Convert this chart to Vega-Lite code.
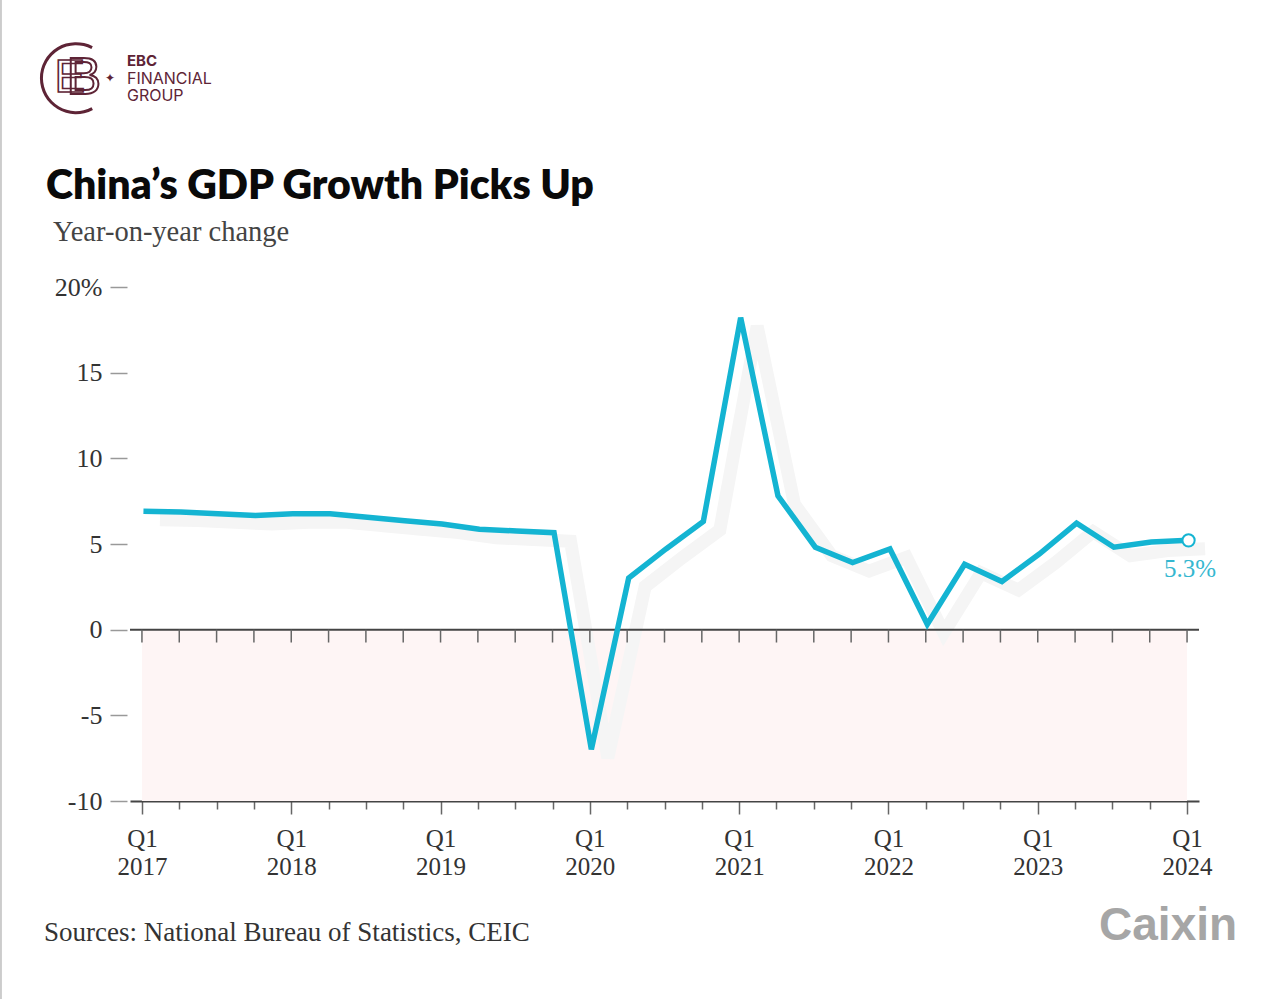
{"$schema":"https://vega.github.io/schema/vega-lite/v6.json","width":1069,"height":514,"padding":{"left":130,"top":287,"right":81,"bottom":198},"autosize":"none","background":"white","view":{"stroke":null},
"title":{"text":"China’s GDP Growth Picks Up","anchor":"start","frame":"group","dx":-84,"offset":-210,"font":"Lato","fontSize":41,"fontWeight":800,"color":"#0a0a0a"},
"data":{"values":[{"quarter":"2017 Q1","growth":7.0},{"quarter":"2017 Q2","growth":6.95},{"quarter":"2017 Q3","growth":6.85},{"quarter":"2017 Q4","growth":6.75},{"quarter":"2018 Q1","growth":6.85},{"quarter":"2018 Q2","growth":6.85},{"quarter":"2018 Q3","growth":6.65},{"quarter":"2018 Q4","growth":6.45},{"quarter":"2019 Q1","growth":6.25},{"quarter":"2019 Q2","growth":5.95},{"quarter":"2019 Q3","growth":5.85},{"quarter":"2019 Q4","growth":5.75},{"quarter":"2020 Q1","growth":-6.9},{"quarter":"2020 Q2","growth":3.1},{"quarter":"2020 Q3","growth":4.8},{"quarter":"2020 Q4","growth":6.4},{"quarter":"2021 Q1","growth":18.3},{"quarter":"2021 Q2","growth":7.9},{"quarter":"2021 Q3","growth":4.9},{"quarter":"2021 Q4","growth":4.0},{"quarter":"2022 Q1","growth":4.8},{"quarter":"2022 Q2","growth":0.4},{"quarter":"2022 Q3","growth":3.9},{"quarter":"2022 Q4","growth":2.9},{"quarter":"2023 Q1","growth":4.5},{"quarter":"2023 Q2","growth":6.3},{"quarter":"2023 Q3","growth":4.9},{"quarter":"2023 Q4","growth":5.2},{"quarter":"2024 Q1","growth":5.3}]},
"layer":[
{"mark":{"type":"line","stroke":"#14b4d2","strokeOpacity":0,"strokeWidth":1},"encoding":{
"x":{"field":"quarter","type":"ordinal","title":null,"scale":{"type":"point","padding":0.32,"domain":["2017 Q1","2017 Q2","2017 Q3","2017 Q4","2018 Q1","2018 Q2","2018 Q3","2018 Q4","2019 Q1","2019 Q2","2019 Q3","2019 Q4","2020 Q1","2020 Q2","2020 Q3","2020 Q4","2021 Q1","2021 Q2","2021 Q3","2021 Q4","2022 Q1","2022 Q2","2022 Q3","2022 Q4","2023 Q1","2023 Q2","2023 Q3","2023 Q4","2024 Q1"]},
"axis":{"orient":"bottom","domainColor":"#444444","domainWidth":2,"tickColor":"#666666","tickWidth":1.5,"tickSize":{"condition":{"test":"indexof(datum.value,'Q1')>=0","value":13},"value":8},"labelOverlap":false,"labelAngle":0,"labelPadding":12,"labelFont":"Liberation Serif","labelFontSize":25,"labelColor":"#333333","labelLineHeight":28,"labelBaseline":"top","labelExpr":"indexof(datum.value,'Q1')>=0 ? ['Q1', slice(datum.value,0,4)] : ''"}},
"y":{"field":"growth","type":"quantitative","title":null,"scale":{"domain":[-10,20],"nice":false,"zero":false},
"axis":{"values":[-10,-5,0,5,10,15,20],"grid":false,"domain":false,"offset":3,"tickSize":17,"tickColor":"#999999","tickWidth":1.5,"labelPadding":8,"labelFont":"Liberation Serif","labelFontSize":26,"labelColor":"#333333","labelExpr":"datum.value==20 ? '20%' : ''+datum.value"}}}},
{"data":{"values":[{"band":"negative"}]},"mark":{"type":"rect","color":"#fef5f5"},"encoding":{"x":{"datum":"2017 Q1","type":"ordinal","title":null},"x2":{"datum":"2024 Q1"},"y":{"datum":0,"type":"quantitative","title":null},"y2":{"datum":-10}}},
{"mark":{"type":"line","stroke":"#f5f5f5","strokeWidth":13,"xOffset":18,"yOffset":10,"clip":false},"encoding":{"x":{"field":"quarter","type":"ordinal","title":null},"y":{"field":"growth","type":"quantitative","title":null}}},
{"data":{"values":[{"rule":"zero"}]},"mark":{"type":"rule","color":"#444444","size":2},"encoding":{"y":{"datum":0,"type":"quantitative","title":null}}},
{"mark":{"type":"rule","color":"#666666","size":1.5},"encoding":{"x":{"field":"quarter","type":"ordinal","title":null},"y":{"datum":0,"type":"quantitative","title":null},"y2":{"datum":-0.75}}},
{"mark":{"type":"line","stroke":"#14b4d2","strokeWidth":5.5,"strokeJoin":"miter","xOffset":1.5,"yOffset":1.5,"clip":false},"encoding":{"x":{"field":"quarter","type":"ordinal","title":null},"y":{"field":"growth","type":"quantitative","title":null}}},
{"transform":[{"filter":"datum.quarter=='2024 Q1'"}],"mark":{"type":"point","filled":true,"fill":"white","stroke":"#14b4d2","strokeWidth":2,"size":150,"opacity":1,"xOffset":1.5,"yOffset":1.5},"encoding":{"x":{"field":"quarter","type":"ordinal","title":null},"y":{"field":"growth","type":"quantitative","title":null}}},
{"data":{"values":[{"quarter":"2024 Q1","growth":5.3,"label":"5.3%"}]},"mark":{"type":"text","color":"#35b7d0","font":"Liberation Serif","fontSize":25,"dy":30,"dx":3},"encoding":{"x":{"field":"quarter","type":"ordinal","title":null},"y":{"field":"growth","type":"quantitative","title":null},"text":{"field":"label"}}},
{"data":{"values":[{"label":"Year-on-year change"}]},"mark":{"type":"text","align":"left","dx":-89,"color":"#444444","font":"Liberation Serif","fontSize":28.5},"encoding":{"x":{"datum":"2017 Q1","type":"ordinal","title":null},"y":{"datum":23.2,"type":"quantitative","title":null},"text":{"field":"label"}}},
{"data":{"values":[{"label":"EBC"}]},"mark":{"type":"text","align":"left","dx":-15,"color":"#5e2436","font":"Inter","fontWeight":700,"fontSize":15},"encoding":{"x":{"datum":"2017 Q1","type":"ordinal","title":null},"y":{"datum":33.18,"type":"quantitative","title":null},"text":{"field":"label"}}},
{"data":{"values":[{"label":"FINANCIAL"}]},"mark":{"type":"text","align":"left","dx":-15,"color":"#5e2436","font":"Inter","fontSize":16},"encoding":{"x":{"datum":"2017 Q1","type":"ordinal","title":null},"y":{"datum":32.15,"type":"quantitative","title":null},"text":{"field":"label"}}},
{"data":{"values":[{"label":"GROUP"}]},"mark":{"type":"text","align":"left","dx":-15,"color":"#5e2436","font":"Inter","fontSize":16},"encoding":{"x":{"datum":"2017 Q1","type":"ordinal","title":null},"y":{"datum":31.12,"type":"quantitative","title":null},"text":{"field":"label"}}},
{"data":{"values":[{"label":"✦"}]},"mark":{"type":"text","dx":-32,"color":"#5e2436","font":"DejaVu Sans","fontSize":12},"encoding":{"x":{"datum":"2017 Q1","type":"ordinal","title":null},"y":{"datum":32.19,"type":"quantitative","title":null},"text":{"field":"label"}}},
{"data":{"values":[{"label":"E"}]},"mark":{"type":"text","dx":-72,"color":"#5e2436","fillOpacity":0,"stroke":"#5e2436","strokeWidth":1.6,"font":"Liberation Sans","fontSize":46},"encoding":{"x":{"datum":"2017 Q1","type":"ordinal","title":null},"y":{"datum":32.19,"type":"quantitative","title":null},"text":{"field":"label"}}},
{"data":{"values":[{"label":"B"}]},"mark":{"type":"text","dx":-58,"color":"#5e2436","fillOpacity":0,"stroke":"#5e2436","strokeWidth":2,"font":"Liberation Sans","fontSize":52},"encoding":{"x":{"datum":"2017 Q1","type":"ordinal","title":null},"y":{"datum":32.19,"type":"quantitative","title":null},"text":{"field":"label"}}},
{"data":{"values":[{"label":"ring"}]},"mark":{"type":"arc","color":"#5e2436","radius":36,"radius2":33,"theta":2.65,"theta2":6.77,"xOffset":-66,"clip":false},"encoding":{"x":{"datum":"2017 Q1","type":"ordinal","title":null},"y":{"datum":32.19,"type":"quantitative","title":null}}},
{"data":{"values":[{"label":"Sources: National Bureau of Statistics, CEIC"}]},"mark":{"type":"text","align":"left","dx":-98,"color":"#333333","font":"Liberation Serif","fontSize":27},"encoding":{"x":{"datum":"2017 Q1","type":"ordinal","title":null},"y":{"datum":-17.72,"type":"quantitative","title":null},"text":{"field":"label"}}},
{"data":{"values":[{"label":"Caixin"}]},"mark":{"type":"text","align":"left","dx":-88,"color":"#a6a6a6","font":"Liberation Sans","fontWeight":"bold","fontSize":46},"encoding":{"x":{"datum":"2024 Q1","type":"ordinal","title":null},"y":{"datum":-17.3,"type":"quantitative","title":null},"text":{"field":"label"}}},
{"data":{"values":[{"label":"edge"}]},"mark":{"type":"rule","color":"#cccccc","size":2,"xOffset":-141,"clip":false},"encoding":{"x":{"datum":"2017 Q1","type":"ordinal","title":null},"y":{"datum":36.8,"type":"quantitative","title":null},"y2":{"datum":-21.6}}}
]}
